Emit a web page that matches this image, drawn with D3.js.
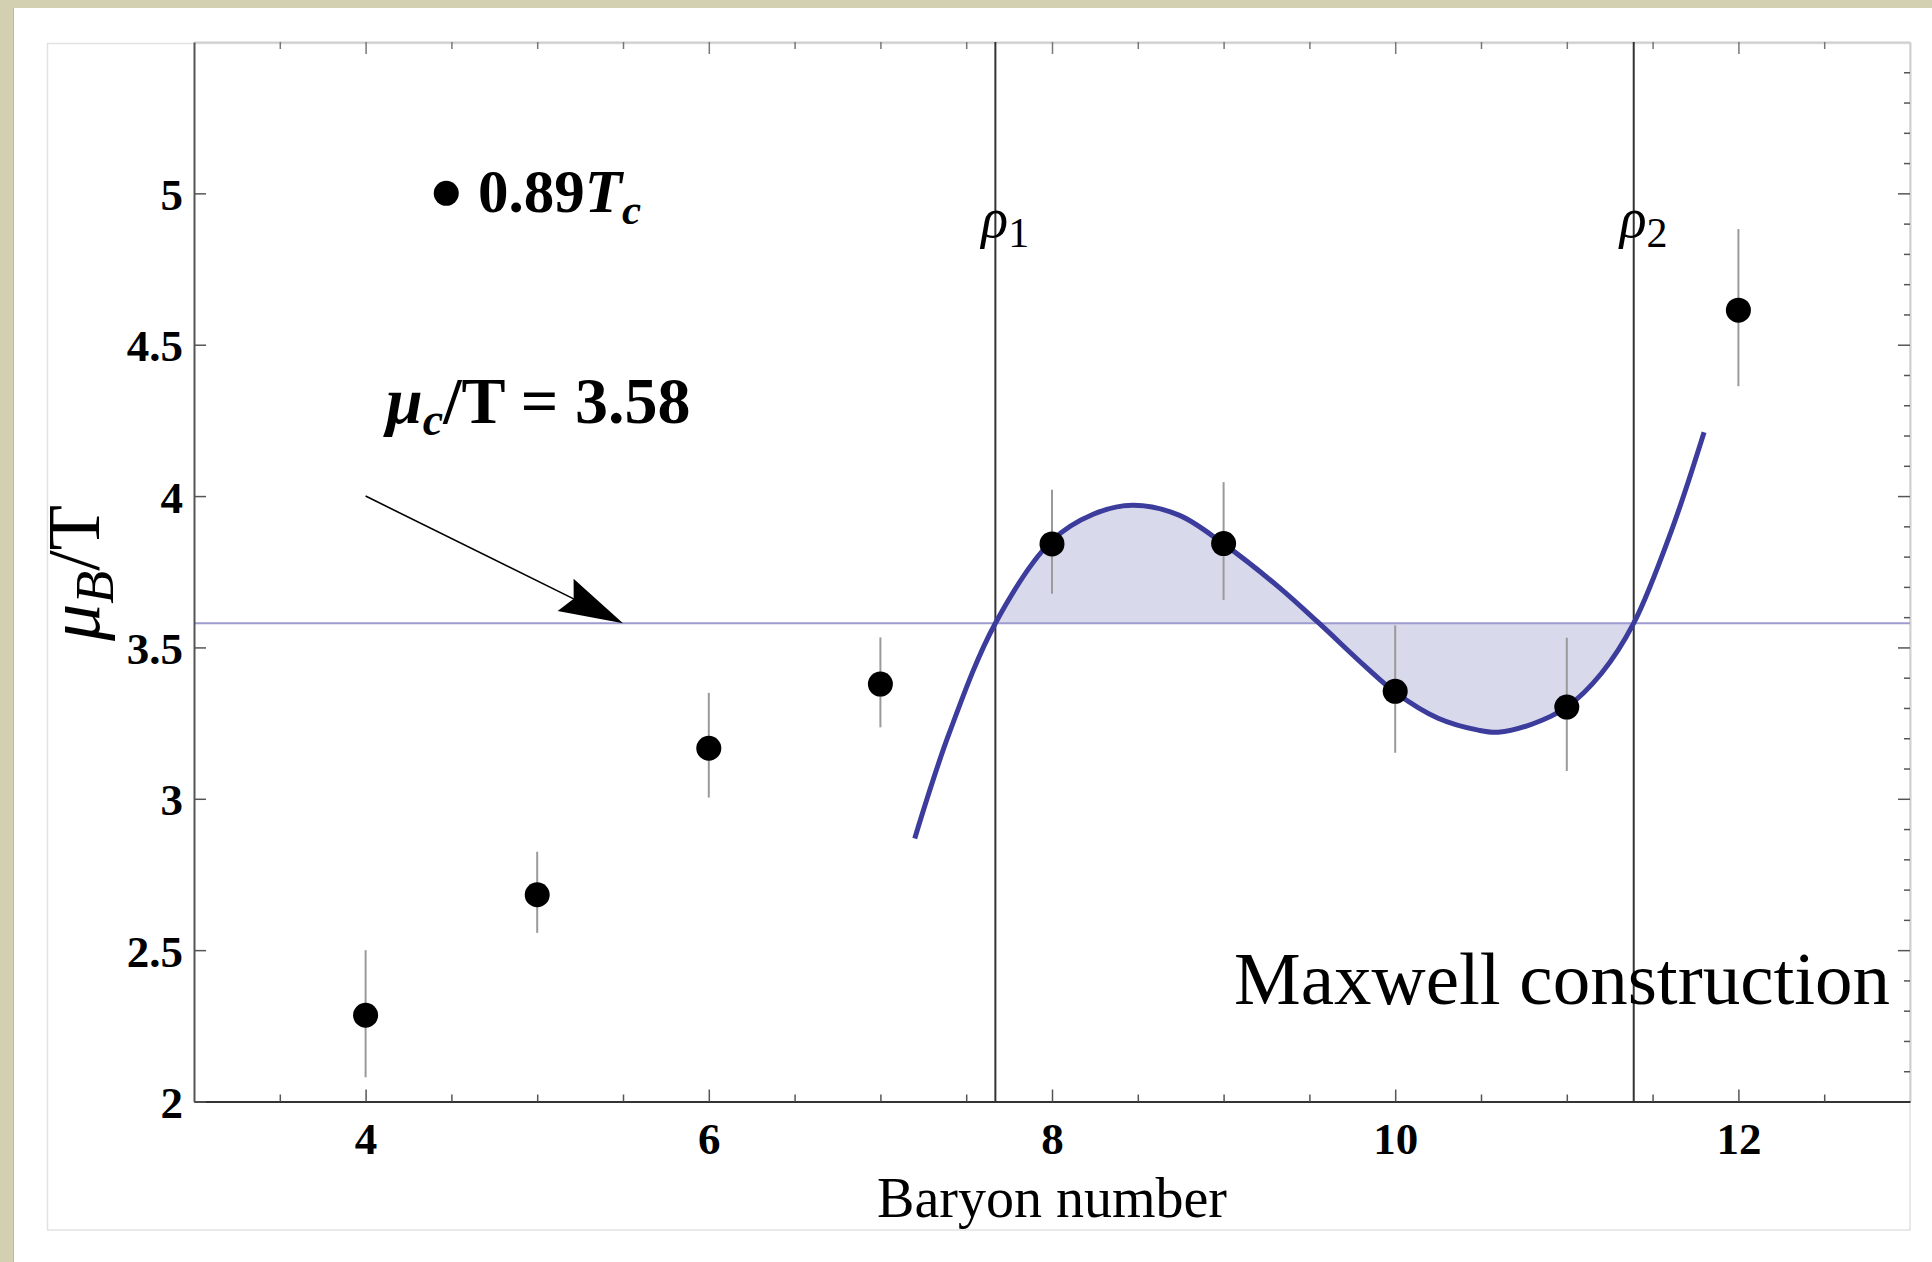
<!DOCTYPE html>
<html>
<head>
<meta charset="utf-8">
<script src="https://cdn.jsdelivr.net/npm/d3@7"></script>
<style>
  html, body { margin: 0; padding: 0; background: #ffffff; }
  svg { display: block; }
</style>
</head>
<body>
<script>
// ---------------- data ----------------
const baryon   = [4, 5, 6, 7, 8, 9, 10, 11, 12];
const muB      = [2.285, 2.683, 3.167, 3.379, 3.842, 3.843, 3.355, 3.303, 4.614];
const errLow   = [2.080, 2.557, 3.004, 3.236, 3.677, 3.657, 3.152, 3.092, 4.363];
const errHigh  = [2.500, 2.825, 3.350, 3.533, 4.021, 4.046, 3.573, 3.532, 4.882];

// fitted curve, points
const fitX = [7.20, 7.40, 7.67, 8.00, 8.24, 8.47, 8.74, 9.00, 9.32, 9.556, 9.83, 10.00, 10.25, 10.49, 10.60, 10.80, 11.00, 11.20, 11.39, 11.61, 11.80];
const fitY = [2.869, 3.215, 3.580, 3.853, 3.940, 3.970, 3.937, 3.842, 3.700, 3.580, 3.435, 3.352, 3.266, 3.226, 3.220, 3.247, 3.303, 3.413, 3.580, 3.886, 4.211];

const muC  = 3.58;       // critical chemical potential
const rho1 = 7.67;       // Maxwell construction boundaries
const rho2 = 11.39;

const arrowFrom = [4.0, 4.0];
const arrowTo   = [5.5, 3.58];
const legendAt  = [4.47, 5.0];

const xMajorTicks = [4, 6, 8, 10, 12];
const xTickLabels = ["4", "6", "8", "10", "12"];
const yMajorTicks = [2, 2.5, 3, 3.5, 4, 4.5, 5];
const yTickLabels = ["2", "2.5", "3", "3.5", "4", "4.5", "5"];
const xDomain = [3, 13];
const yDomain = [2, 5.5];

// ---------------- layout ----------------
const W = 1932, H = 1262;
const L = 194, R = 1910, T = 42, B = 1101.5;
const serif = "'Liberation Serif', 'Times New Roman', Times, serif";

const svg = d3.select("body").append("svg").attr("width", W).attr("height", H);

// background: tan border + white panel
svg.append("rect").attr("x", 0).attr("y", 0).attr("width", W).attr("height", H).attr("fill", "#ffffff");
svg.append("rect").attr("x", 0).attr("y", 0).attr("width", W).attr("height", 8).attr("fill", "#d2d0b1");
svg.append("rect").attr("x", 0).attr("y", 0).attr("width", 13).attr("height", H).attr("fill", "#d2d0b1");
svg.append("line").attr("x1", 13.5).attr("x2", 13.5).attr("y1", 8).attr("y2", H).attr("stroke", "#b9b8a2").attr("stroke-width", 1);
// inner image box
svg.append("rect").attr("x", 47.5).attr("y", 43.5).attr("width", R - 47.5).attr("height", 1230 - 43.5)
  .attr("fill", "none").attr("stroke", "#e2e2e2").attr("stroke-width", 1.5);

const x = d3.scaleLinear().domain(xDomain).range([L, R]);
const y = d3.scaleLinear().domain(yDomain).range([B, T]);

// ---------------- frame + axes ----------------
const xMinor = d3.range(3.5, 13, 0.5).filter(v => !xMajorTicks.includes(v));
const yMinorR = d3.range(2.1, 5.45, 0.1).map(v => +v.toFixed(1)).filter(v => !yMajorTicks.includes(v));

function styleAxis(g, domainColor, tickColor, width) {
  g.select(".domain").attr("stroke", domainColor).attr("stroke-width", width);
  g.selectAll(".tick line").attr("stroke", tickColor).attr("stroke-width", 1.5);
}

// top frame
const gTop = svg.append("g").attr("transform", `translate(0,${T})`)
  .call(d3.axisTop(x).tickValues(xMajorTicks).tickSize(-12).tickSizeOuter(0).tickFormat(""));
styleAxis(gTop, "#cfcfcf", "#777", 2);
const gTopMinor = svg.append("g").attr("transform", `translate(0,${T})`)
  .call(d3.axisTop(x).tickValues(xMinor).tickSize(-7).tickSizeOuter(0).tickFormat(""));
styleAxis(gTopMinor, "none", "#777", 0);

// right frame
const gRight = svg.append("g").attr("transform", `translate(${R},0)`)
  .call(d3.axisRight(y).tickValues(yMajorTicks).tickSize(-12).tickSizeOuter(0).tickFormat(""));
styleAxis(gRight, "#cfcfcf", "#555", 2);
const gRightMinor = svg.append("g").attr("transform", `translate(${R},0)`)
  .call(d3.axisRight(y).tickValues(yMinorR).tickSize(-6).tickSizeOuter(0).tickFormat(""));
styleAxis(gRightMinor, "none", "#555", 0);

// ---------------- shaded Maxwell area ----------------
const fitPts = fitX.map((v, i) => [v, fitY[i]]);
svg.append("clipPath").attr("id", "maxwellClip")
  .append("rect").attr("x", x(rho1)).attr("y", T).attr("width", x(rho2) - x(rho1)).attr("height", B - T);

svg.append("path")
  .datum(fitPts)
  .attr("clip-path", "url(#maxwellClip)")
  .attr("fill", "#d9d9ec")
  .attr("d", d3.area().x(d => x(d[0])).y0(y(muC)).y1(d => y(d[1])).curve(d3.curveCatmullRom.alpha(0.5)));

// horizontal line mu_c
svg.append("line").attr("x1", L).attr("x2", R).attr("y1", y(muC)).attr("y2", y(muC))
  .attr("stroke", "#9c9cd0").attr("stroke-width", 2);

// vertical lines rho1, rho2
[rho1, rho2].forEach(r => {
  svg.append("line").attr("x1", x(r)).attr("x2", x(r)).attr("y1", T).attr("y2", B)
    .attr("stroke", "#333").attr("stroke-width", 2);
});

// fitted curve
svg.append("path")
  .datum(fitPts)
  .attr("fill", "none")
  .attr("stroke", "#3c3c9c")
  .attr("stroke-width", 5)
  .attr("stroke-linecap", "butt")
  .attr("d", d3.line().x(d => x(d[0])).y(d => y(d[1])).curve(d3.curveCatmullRom.alpha(0.5)));

// error bars
svg.append("g").selectAll("line").data(baryon).join("line")
  .attr("x1", d => x(d)).attr("x2", d => x(d))
  .attr("y1", (d, i) => y(errLow[i])).attr("y2", (d, i) => y(errHigh[i]))
  .attr("stroke", "#9a9a9a").attr("stroke-width", 2);

// points
svg.append("g").selectAll("circle").data(baryon).join("circle")
  .attr("cx", d => x(d)).attr("cy", (d, i) => y(muB[i])).attr("r", 12.5)
  .attr("fill", "#000");

// bottom axis
const gBottom = svg.append("g").attr("transform", `translate(0,${B})`)
  .call(d3.axisBottom(x).tickValues(xMajorTicks).tickSize(-12).tickSizeOuter(0).tickPadding(21)
    .tickFormat((d, i) => xTickLabels[i]));
styleAxis(gBottom, "#333", "#555", 2);
const gBottomMinor = svg.append("g").attr("transform", `translate(0,${B})`)
  .call(d3.axisBottom(x).tickValues(xMinor).tickSize(-7).tickSizeOuter(0).tickFormat(""));
styleAxis(gBottomMinor, "none", "#555", 0);

// left axis
const gLeft = svg.append("g").attr("transform", `translate(${L},0)`)
  .call(d3.axisLeft(y).tickValues(yMajorTicks).tickSize(-12).tickSizeOuter(0).tickPadding(11)
    .tickFormat((d, i) => yTickLabels[i]));
styleAxis(gLeft, "#555", "#555", 2);

[gBottom, gLeft].forEach(g => {
  g.selectAll("text").attr("font-family", serif).attr("font-size", 45).attr("font-weight", "bold").attr("fill", "#000");
});
gLeft.selectAll("text").attr("dy", "0.36em");

// ---------------- annotations ----------------
// arrow
(function () {
  const x0 = x(arrowFrom[0]), y0 = y(arrowFrom[1]);
  const x1 = x(arrowTo[0]), y1 = y(arrowTo[1]);
  const len = Math.hypot(x1 - x0, y1 - y0);
  const ux = (x1 - x0) / len, uy = (y1 - y0) / len;
  const nx = -uy, ny = ux;
  const headLen = 64, half = 18, notch = 55;
  svg.append("line").attr("x1", x0).attr("y1", y0)
    .attr("x2", x1 - notch * ux).attr("y2", y1 - notch * uy)
    .attr("stroke", "#000").attr("stroke-width", 1.6);
  const bx = x1 - headLen * ux, by = y1 - headLen * uy;
  const pts = [
    [x1, y1],
    [bx + half * nx, by + half * ny],
    [x1 - notch * ux, y1 - notch * uy],
    [bx - half * nx, by - half * ny]
  ];
  svg.append("polygon").attr("points", pts.map(p => p.join(",")).join(" ")).attr("fill", "#000");
})();

// mu_c / T = 3.58
(function () {
  const t = svg.append("text").attr("x", 386).attr("y", 423)
    .attr("font-family", serif).attr("font-size", 66).attr("font-weight", "bold").attr("fill", "#000");
  t.append("tspan").attr("font-style", "italic").text("μ");
  t.append("tspan").attr("font-style", "italic").attr("font-size", 46).attr("dy", 12).text("c");
  t.append("tspan").attr("dy", -12).text("/T = 3.58");
})();

// legend
svg.append("circle").attr("cx", x(legendAt[0])).attr("cy", y(legendAt[1])).attr("r", 12.5).attr("fill", "#000");
(function () {
  const t = svg.append("text").attr("x", 478).attr("y", 212)
    .attr("font-family", serif).attr("font-size", 61).attr("font-weight", "bold").attr("fill", "#000");
  t.append("tspan").text("0.89");
  t.append("tspan").attr("font-style", "italic").text("T");
  t.append("tspan").attr("font-style", "italic").attr("font-size", 43).attr("dy", 12).text("c");
})();

// rho labels
[[rho1, "1"], [rho2, "2"]].forEach(([r, s]) => {
  const t = svg.append("text").attr("x", x(r) - 14).attr("y", 237)
    .attr("font-family", serif).attr("font-size", 56).attr("fill", "#000");
  t.append("tspan").attr("font-style", "italic").text("ρ");
  t.append("tspan").attr("font-size", 42).attr("dy", 10).text(s);
});

// Maxwell construction
svg.append("text").attr("x", 1234).attr("y", 1004)
  .attr("font-family", serif).attr("font-size", 75).attr("fill", "#000")
  .text("Maxwell construction");

// x axis title
svg.append("text").attr("x", x(8)).attr("y", 1217).attr("text-anchor", "middle")
  .attr("font-family", serif).attr("font-size", 56).attr("fill", "#000")
  .text("Baryon number");

// y axis title
(function () {
  const t = svg.append("text").attr("transform", "translate(99,573) rotate(-90)")
    .attr("text-anchor", "middle")
    .attr("font-family", serif).attr("font-size", 74).attr("fill", "#000");
  t.append("tspan").attr("font-style", "italic").text("μ");
  t.append("tspan").attr("font-style", "italic").attr("font-size", 54).attr("dy", 14).text("B");
  t.append("tspan").attr("dy", -14).text("/T");
})();
</script>
</body>
</html>
